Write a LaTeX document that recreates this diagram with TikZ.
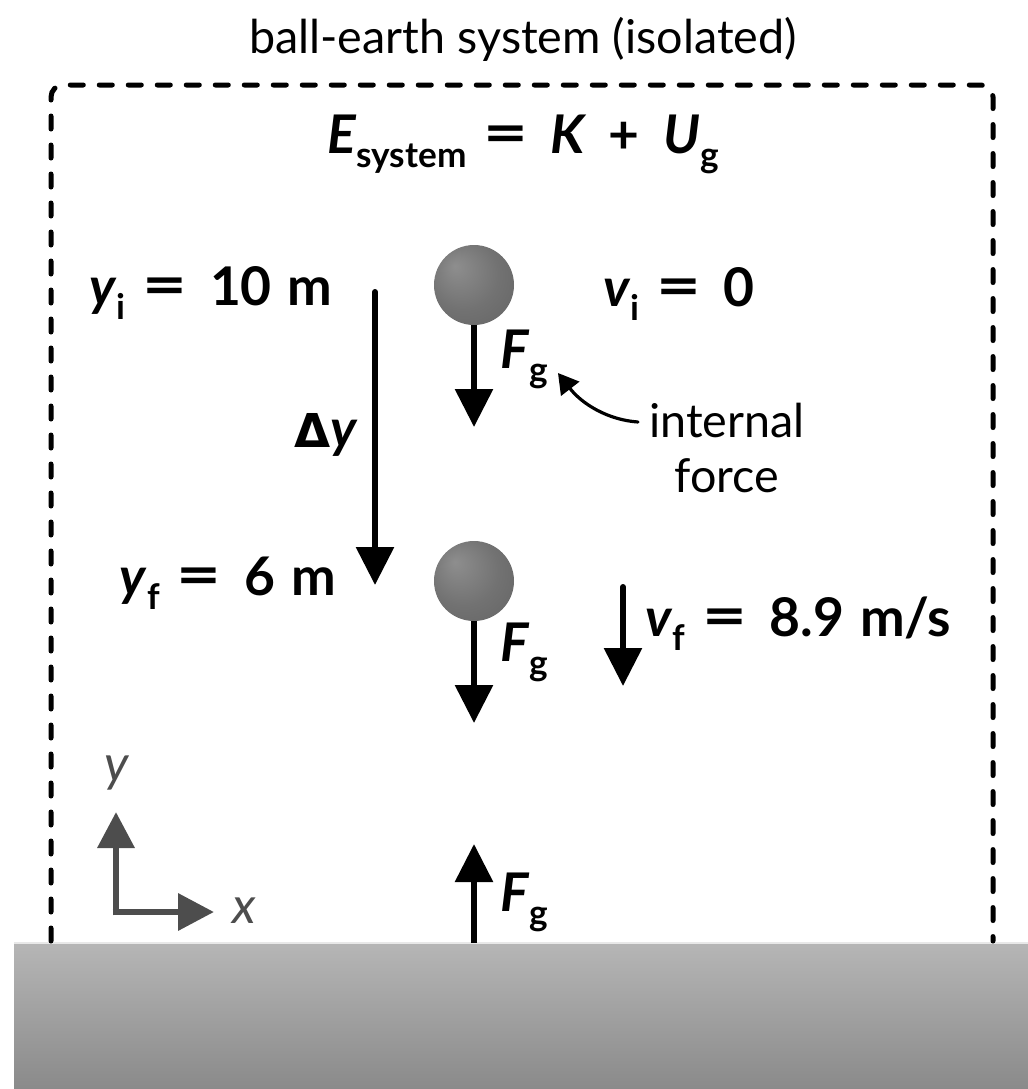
\documentclass[tikz,border=0pt]{standalone}
\usepackage{fontspec}
\setmainfont{Lato}
\newfontfamily\greekfont{DejaVu Sans}
\usetikzlibrary{arrows.meta}
\definecolor{axisgray}{HTML}{4D4D4D}
\definecolor{groundtop}{HTML}{B6B6B6}
\definecolor{groundbot}{HTML}{8A8A8A}
\definecolor{ballA}{HTML}{8E8E8E}
\definecolor{ballB}{HTML}{727272}
\definecolor{ballC}{HTML}{5C5C5C}
\pgfdeclareradialshading{ballshade}{\pgfpoint{-12bp}{12bp}}{color(0bp)=(ballA); color(22bp)=(ballB); color(50bp)=(ballC)}
\newcommand\lblsub[2]{\textit{#1}\raisebox{-0.28em}{\scalebox{0.66}{#2}}}
\newcommand\eqsp{\hspace{0.32em}\scalebox{1.45}[1.1]{=}\hspace{0.42em}}
\newcommand\plsp{\hspace{0.4em}+\hspace{0.45em}}
\tikzset{
  lbl/.style={font=\fontsize{40}{42}\selectfont\bfseries, inner sep=0pt},
  plain/.style={font=\fontsize{35}{38}\selectfont, inner sep=0pt},
  force/.style={line width=4.5pt, -{Triangle[width=27.75pt,length=28.5pt]}},
  axisarrow/.style={line width=5pt, axisgray, -{Triangle[width=27pt,length=27pt]}},
  ball/.style={circle, minimum size=60pt, inner sep=0pt, shading=ballshade},
  sysbox/.style={line width=3.75pt, line cap=round, dash pattern=on 9.75pt off 12pt, rounded corners=9pt}
}
\begin{document}
\begin{tikzpicture}[x=0.75pt, y=-0.75pt]
\useasboundingbox (0,0) rectangle (1028,1089);
% ground
\shade[top color=groundtop, bottom color=groundbot] (14,942) rectangle (1028,1089);
\draw[line width=1.5pt, white!82!gray] (14,942.5) -- (1028,942.5);
% system boundary
\coordinate (bl) at (51,941);
\coordinate (tl) at (51,85);
\coordinate (tr) at (993,85);
\coordinate (br) at (993,941);
\draw[sysbox] (bl) -- (tl) -- (tr) -- (br);
% title and equation
\node[plain, anchor=base] (title) at (523,53) {ball-earth system (isolated)};
\node[lbl, anchor=base, font=\fontsize{40}{42}\selectfont\bfseries] (esys) at (523,153)
  {\lblsub{E}{system}\eqsp\textit{K}\plsp\lblsub{U}{g}};
% balls
\node[ball] (ball1) at (474,285) {};
\node[ball] (ball2) at (474,581) {};
% labels
\node[lbl, anchor=base west] (yi) at (89,305) {\lblsub{y}{i}\eqsp 10\hspace{0.3em}m};
\node[lbl, anchor=base east] (yf) at (336,595) {\lblsub{y}{f}\eqsp 6\hspace{0.3em}m};
\node[lbl, anchor=base west] (vi) at (603,306) {\lblsub{v}{i}\eqsp 0};
\node[lbl, anchor=base west] (vf) at (645,636) {\lblsub{v}{f}\eqsp 8.9\hspace{0.3em}m/s};
\node[lbl, anchor=base east] (dy) at (358,447) {{\greekfont\fontsize{35}{38}\selectfont\bfseries Δ}\textit{y}};
% delta y arrow
\coordinate (dytop) at (375,292);
\coordinate (dybot) at (375,585);
\draw[force, line cap=round] (dytop) -- (dybot);
% forces on balls
\coordinate (f1tip) at (474,427);
\coordinate (f2tip) at (474,723);
\draw[force] (ball1.south) -- (f1tip);
\draw[force] (ball2.south) -- (f2tip);
\node[lbl, anchor=base west] (fg1) at (500,368) {\lblsub{F}{g}};
\node[lbl, anchor=base west] (fg2) at (500,661) {\lblsub{F}{g}};
% v_f arrow
\coordinate (vftop) at (623,587);
\coordinate (vfbot) at (623,686);
\draw[force, line cap=round] (vftop) -- (vfbot);
% internal force note
\node[plain] (internal) at (727,420) {internal};
\node[plain] (forcetxt) at (727,476) {force};
\coordinate (intstart) at (638,422);
\coordinate (inttip) at (558,373);
\draw[line width=2.4pt, line cap=round, -{Triangle[width=17pt,length=15pt]}] (intstart) .. controls (608,420) and (582,404) .. (inttip);
% earth force
\coordinate (f3base) at (474,943);
\coordinate (f3tip) at (474,844);
\draw[force] (f3base) -- (f3tip);
\node[lbl, anchor=base west] (fg3) at (500,911) {\lblsub{F}{g}};
% axes
\coordinate (orig) at (116,912);
\coordinate (ytip) at (116,812);
\coordinate (xtip) at (214,912);
\draw[axisarrow] ([yshift=-2.5pt]orig) -- (ytip);
\draw[axisarrow] ([xshift=-2.5pt]orig) -- (xtip);
\node[lbl, axisgray, font=\fontsize{38}{40}\selectfont\itshape] (ylab) at (117,773) {y};
\node[lbl, axisgray, font=\fontsize{38}{40}\selectfont\itshape] (xlab) at (244,911) {x};
\end{tikzpicture}
\end{document}
